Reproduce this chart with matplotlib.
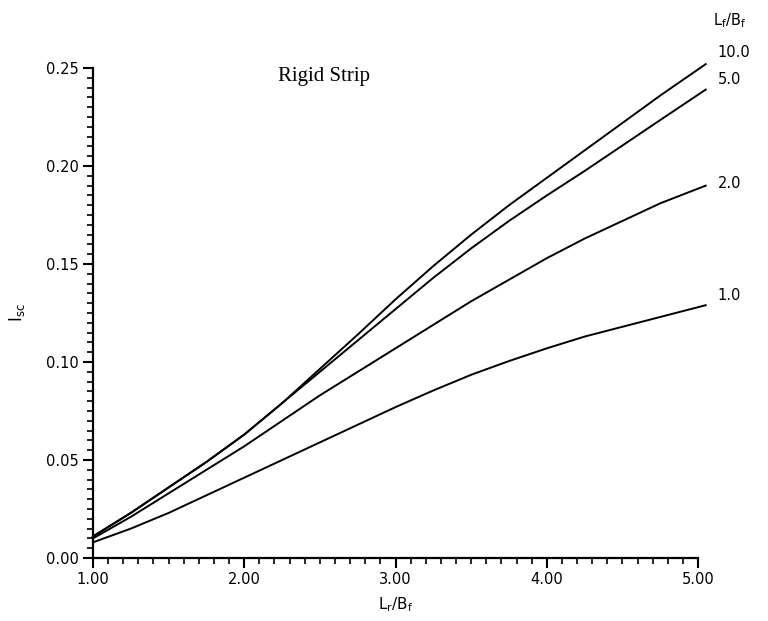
import numpy as np
import matplotlib.pyplot as plt
from matplotlib.ticker import MultipleLocator, FormatStrFormatter

# Values
ratio = [1.0, 1.25, 1.5, 1.75, 2.0, 2.25, 2.5, 2.75, 3.0, 3.25, 3.5,
         3.75, 4.0, 4.25, 4.5, 4.75, 5.05]
isc_10 = [0.011, 0.023, 0.036, 0.049, 0.063, 0.079, 0.0965, 0.114, 0.132,
          0.149, 0.165, 0.180, 0.194, 0.208, 0.222, 0.236, 0.252]
isc_5 = [0.011, 0.023, 0.036, 0.049, 0.063, 0.079, 0.095, 0.111, 0.127,
         0.143, 0.158, 0.172, 0.185, 0.1975, 0.2105, 0.2235, 0.239]
isc_2 = [0.010, 0.021, 0.033, 0.045, 0.057, 0.070, 0.083, 0.095, 0.107,
         0.119, 0.131, 0.142, 0.153, 0.163, 0.172, 0.181, 0.190]
isc_1 = [0.008, 0.015, 0.023, 0.032, 0.041, 0.050, 0.059, 0.068, 0.077,
         0.0855, 0.0935, 0.1005, 0.107, 0.113, 0.118, 0.123, 0.129]
curve_labels = ["10.0", "5.0", "2.0", "1.0"]
label_y = [0.258, 0.244, 0.191, 0.134]

fig = plt.figure(figsize=(7.68, 6.21), dpi=100)
ax = fig.add_axes([0.121, 0.1014, 0.788, 0.789])

for ys in (isc_10, isc_5, isc_2, isc_1):
    ax.plot(ratio, ys, color="black", lw=1.4, clip_on=False)

ax.set_xlim(1.0, 5.0)
ax.set_ylim(0.0, 0.25)

ax.spines["top"].set_visible(False)
ax.spines["right"].set_visible(False)
ax.spines["left"].set_linewidth(1.6)
ax.spines["bottom"].set_linewidth(1.6)

ax.xaxis.set_major_locator(MultipleLocator(1.0))
ax.xaxis.set_minor_locator(MultipleLocator(0.1))
ax.yaxis.set_major_locator(MultipleLocator(0.05))
ax.yaxis.set_minor_locator(MultipleLocator(0.005))
ax.xaxis.set_major_formatter(FormatStrFormatter("%.2f"))
ax.yaxis.set_major_formatter(FormatStrFormatter("%.2f"))

ax.tick_params(which="major", direction="out", length=7, width=1.5,
               labelsize=10.5, pad=3)
ax.tick_params(which="minor", direction="out", length=4, width=1.2)

ax.set_xlabel("L$_\\mathregular{r}$/B$_\\mathregular{f}$", fontsize=11,
              labelpad=6)
ax.set_ylabel("I$_\\mathregular{sc}$", fontsize=12, labelpad=14)

ax.text(2.53, 0.2455, "Rigid Strip", family="Liberation Serif", fontsize=15,
        ha="center", va="center")

for lab, yl in zip(curve_labels, label_y):
    ax.text(5.13, yl, lab, fontsize=10.5, ha="left", va="center",
            clip_on=False)
ax.text(5.10, 0.274, "L$_\\mathregular{f}$/B$_\\mathregular{f}$", fontsize=10.5,
        ha="left", va="center", clip_on=False)

fig.savefig("out.png", dpi=100)
